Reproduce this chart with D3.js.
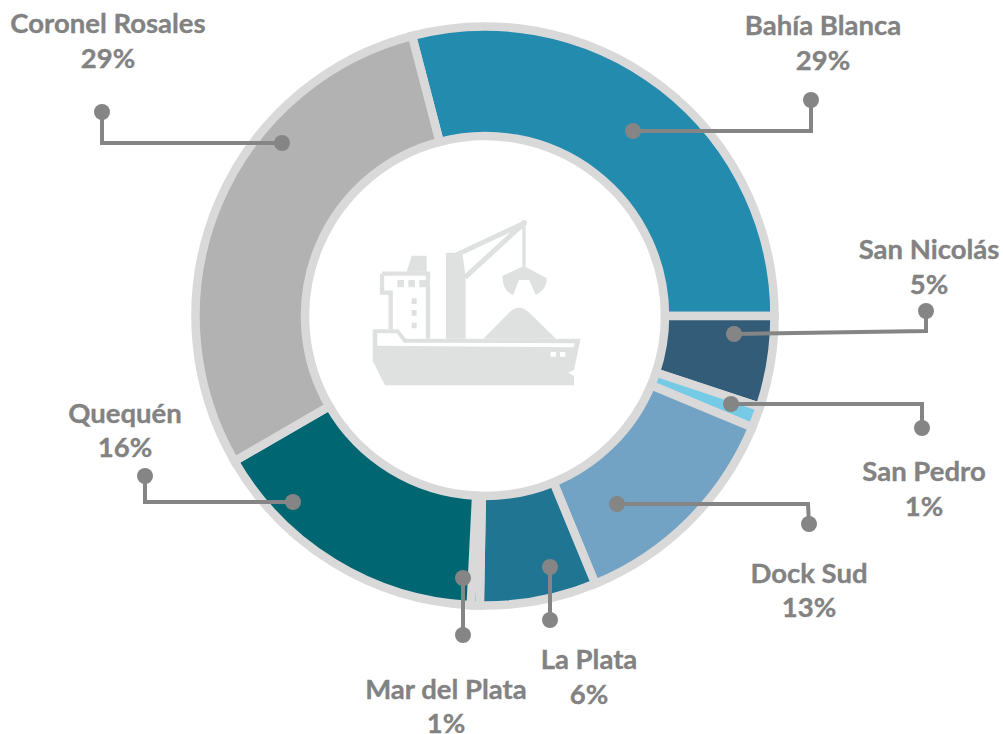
<!DOCTYPE html>
<html><head><meta charset="utf-8">
<script src="https://cdn.jsdelivr.net/npm/d3@7"></script>
<style>html,body{margin:0;padding:0;background:#fff;overflow:hidden}svg{display:block}</style>
</head><body><svg id="c" width="1003" height="734"></svg>
<script>
const categories=["Bahía Blanca","San Nicolás","San Pedro","Dock Sud","La Plata","Mar del Plata","Quequén","Coronel Rosales"];
const values=[29.06,5.08,1.2,12.5,6.5,0.5,15.86,29.3];
const labels=["29%","5%","1%","13%","6%","1%","16%","29%"];
const colors=["#238cae","#335c78","#75cbe6","#73a3c4","#1f7592","#00aebf","#006672","#b2b2b2"];
const leaders=[
 [[633,131],[811,131],[811,100]],
 [[734,334],[926,331],[926,311]],
 [[731,404],[922,404],[922,428]],
 [[617,504],[808,504],[809,524]],
 [[550,567],[550,620]],
 [[463,578],[463,635]],
 [[293,502],[145,502],[145,476]],
 [[282,143],[102,143],[102,112]]];
const labelPos=[[823,24,59],[929,248,283],[924,470,505],[809,572,606],[589,658,693],[446,688,722],[125,412,446],[108,22,57]];

const svg=d3.select("#c");
const cx=485,cy=316;
const g=svg.append("g").attr("transform",`translate(${cx},${cy})`);
const start=-14.6*Math.PI/180;
const pie=d3.pie().sort(null).value(d=>d).startAngle(start).endAngle(start+2*Math.PI);
const arc=d3.arc().innerRadius(180).outerRadius(289.5);
g.selectAll("path").data(pie(values)).join("path")
 .attr("d",arc).attr("fill",(d,i)=>colors[i])
 .attr("stroke","#d9d9d9").attr("stroke-width",8.5).attr("stroke-linejoin","miter");

// ship icon
const ship=svg.append("g").attr("transform","translate(350,200) scale(0.3333)");
const ic="#dfe1e0";
ship.append("path").attr("fill",ic).attr("d","M68 388L145 388L168 416L692 416L672 510L655 518L672 527L672 556L105 556L68 482Z");
ship.append("path").attr("fill","#fff").attr("d","M82 400L140 400L162 428L674 430L671 442L82 437Z");
ship.append("path").attr("fill","#fff").attr("d","M602 456H618V470H602ZM630 456H646V470H630Z");
ship.append("path").attr("fill","none").attr("stroke",ic).attr("stroke-width",13).attr("d","M96 221L234 221L234 416M96 221L96 278L122 278L122 388");
ship.append("path").attr("fill",ic).attr("d","M170 215L185 167L230 167L230 215ZM142 240H162V262H142ZM175 240H195V262H175ZM208 240H228V262H208ZM185 295H200V312H185ZM185 330H200V347H185ZM185 368H200V385H185Z");
ship.append("path").attr("fill",ic).attr("d","M288 158L322 158L338 165L347 232L347 416L288 416Z");
ship.append("path").attr("fill","none").attr("stroke",ic).attr("stroke-width",15).attr("d","M320 164L522 70L345 232");
ship.append("path").attr("fill","none").attr("stroke",ic).attr("stroke-width",10).attr("d","M522 68L522 200");
ship.append("circle").attr("cx",522).attr("cy",69).attr("r",9).attr("fill",ic);
ship.append("path").attr("fill",ic).attr("d","M522 198L590 235C590 260 578 275 557 285L538 240L507 240L490 285C465 275 458 255 457 228Z");
ship.append("path").attr("fill",ic).attr("d","M400 416L480 335Q507 312 535 335L618 416Z");

// leaders
const line=d3.line();
const lead=svg.append("g");
leaders.forEach(p=>{
 lead.append("path").attr("d",line(p)).attr("fill","none").attr("stroke","#858585").attr("stroke-width",4);
 [p[0],p[p.length-1]].forEach(q=>lead.append("circle").attr("cx",q[0]).attr("cy",q[1]).attr("r",8).attr("fill","#858585"));
});

// labels
const t=svg.append("g").attr("font-family","Lato, 'Open Sans', sans-serif").attr("font-weight",700).attr("font-size",27.5).attr("fill","#828282").attr("stroke","#828282").attr("stroke-width",0.35).attr("text-anchor","middle").attr("dominant-baseline","central");
categories.forEach((c,i)=>{
 const p=labelPos[i];
 t.append("text").attr("x",p[0]).attr("y",p[1]).text(c);
 t.append("text").attr("x",p[0]).attr("y",p[2]).text(labels[i]);
});
</script></body></html>
